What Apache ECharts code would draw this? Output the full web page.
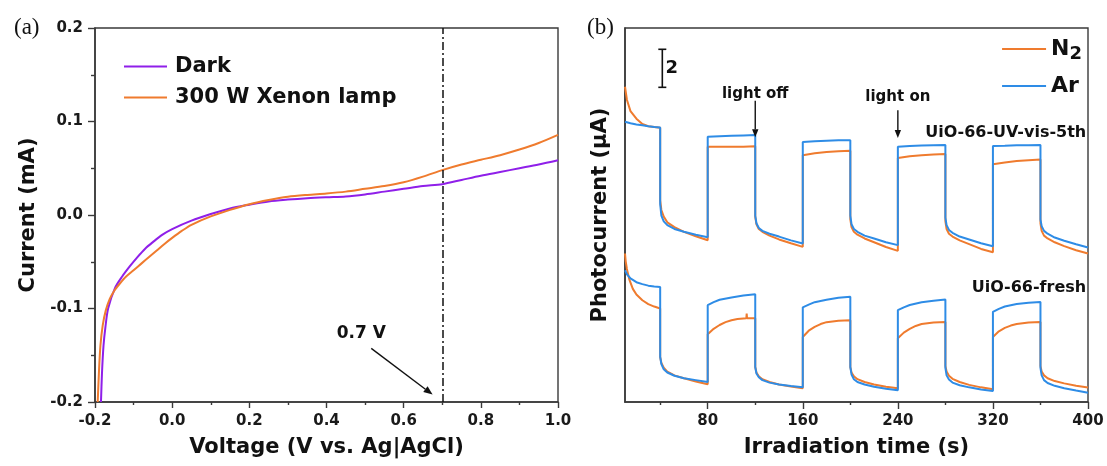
<!DOCTYPE html>
<html>
<head>
<meta charset="utf-8">
<script src="https://cdn.jsdelivr.net/npm/echarts@6/dist/echarts.min.js"></script>
<style>html,body{margin:0;padding:0;background:#fff;}#c{width:1107px;height:466px;}</style>
</head>
<body>
<div id="c"></div>
<script>
// ---------- Panel (a): I-V curves ----------
const darkIV = [[-0.1845,-0.2],[-0.182,-0.17],[-0.178,-0.14],[-0.173,-0.12],[-0.166,-0.1],[-0.148,-0.078],[-0.13,-0.066],[-0.11,-0.055],[-0.09,-0.045],[-0.07,-0.036],[-0.05,-0.029],[-0.025,-0.021],[0,-0.015],[0.05,-0.006],[0.1,0.001],[0.15,0.007],[0.2,0.011],[0.25,0.0145],[0.3,0.0165],[0.35,0.018],[0.4,0.019],[0.45,0.0198],[0.5,0.022],[0.55,0.025],[0.6,0.028],[0.65,0.031],[0.7,0.033],[0.75,0.0375],[0.8,0.042],[0.85,0.046],[0.9,0.05],[0.95,0.054],[1.0,0.0585]];
const xenonIV = [[-0.193,-0.2],[-0.19,-0.17],[-0.186,-0.14],[-0.18,-0.118],[-0.172,-0.102],[-0.162,-0.09],[-0.15,-0.081],[-0.135,-0.073],[-0.12,-0.066],[-0.1,-0.059],[-0.08,-0.052],[-0.06,-0.045],[-0.04,-0.038],[-0.02,-0.031],[0,-0.0245],[0.025,-0.017],[0.05,-0.0105],[0.1,-0.0015],[0.15,0.0055],[0.2,0.0115],[0.25,0.016],[0.3,0.0195],[0.35,0.0215],[0.4,0.023],[0.45,0.025],[0.5,0.028],[0.55,0.031],[0.6,0.035],[0.65,0.041],[0.7,0.048],[0.75,0.054],[0.8,0.059],[0.85,0.064],[0.9,0.07],[0.95,0.077],[1.0,0.0857]];
const seriesNamesA = ['Dark', '300 W Xenon lamp'];
const markVoltage = 0.7;

// ---------- Panel (b): photocurrent transients ----------
const upperN2 = [[10.4,16.58],[12,15.9],[15,15.3],[20,14.9],[25,14.62],[30,14.5],[35,14.46],[40,14.42],
 [40,10.6],[41,10.1],[43,9.75],[46,9.45],[52,9.2],[60,8.95],[70,8.72],[80,8.51],
 [80,13.42],[90,13.42],[100,13.42],[110,13.43],[120,13.45],
 [120,9.74],[121,9.35],[123,9.1],[126,8.95],[132,8.75],[140,8.55],[150,8.35],[160,8.16],
 [160,12.98],[170,13.08],[180,13.15],[190,13.19],[200,13.21],
 [200,9.6],[201,9.2],[203,8.95],[206,8.8],[212,8.6],[220,8.4],[230,8.15],[240,7.95],
 [240,12.83],[250,12.93],[260,12.98],[270,13.02],[280,13.04],
 [280,9.5],[281,9.1],[283,8.85],[286,8.7],[292,8.5],[300,8.3],[310,8.05],[320,7.88],
 [320,12.51],[330,12.6],[340,12.67],[350,12.72],[360,12.76],
 [360,9.4],[361,9.0],[363,8.75],[366,8.6],[372,8.4],[380,8.2],[390,7.98],[400,7.81]];
const upperAr = [[10.4,14.74],[15,14.66],[20,14.6],[25,14.55],[30,14.5],[35,14.46],[40,14.44],
 [40,10.4],[41,9.8],[43,9.5],[46,9.3],[52,9.1],[60,8.95],[70,8.8],[80,8.67],
 [80,13.95],[90,13.98],[100,14.0],[110,14.02],[120,14.04],
 [120,9.8],[121,9.4],[123,9.15],[126,9.0],[132,8.85],[140,8.7],[150,8.5],[160,8.34],
 [160,13.68],[170,13.72],[180,13.74],[190,13.76],[200,13.77],
 [200,9.8],[201,9.35],[203,9.1],[206,8.95],[212,8.75],[220,8.6],[230,8.4],[240,8.25],
 [240,13.42],[250,13.47],[260,13.49],[270,13.5],[280,13.51],
 [280,9.7],[281,9.3],[283,9.05],[286,8.9],[292,8.7],[300,8.55],[310,8.35],[320,8.19],
 [320,13.47],[330,13.48],[340,13.5],[350,13.5],[360,13.52],
 [360,9.6],[361,9.25],[363,9.0],[366,8.85],[372,8.65],[380,8.48],[390,8.3],[400,8.13]];
const lowerN2 = [[10.4,7.81],[11,7.4],[12,7.0],[14,6.45],[17,5.95],[20,5.65],[25,5.35],[30,5.15],[35,5.02],[40,4.92],
 [40,2.37],[41,2.05],[43,1.8],[46,1.6],[52,1.4],[60,1.25],[70,1.08],[80,0.93],
 [80,3.56],[85,3.85],[90,4.05],[95,4.2],[100,4.3],[105,4.36],[112.5,4.4],[112.8,4.65],[113.1,4.4],[120,4.41],
 [120,1.84],[121,1.55],[123,1.35],[126,1.2],[132,1.05],[140,0.92],[150,0.82],[160,0.72],
 [160,3.42],[165,3.75],[170,3.95],[175,4.1],[180,4.2],[190,4.27],[200,4.3],
 [200,1.84],[201,1.55],[203,1.35],[206,1.2],[212,1.05],[220,0.92],[230,0.8],[240,0.72],
 [240,3.35],[245,3.65],[250,3.85],[255,4.0],[260,4.1],[270,4.18],[280,4.21],
 [280,1.9],[281,1.6],[283,1.38],[286,1.22],[292,1.05],[300,0.9],[310,0.77],[320,0.67],
 [320,3.42],[325,3.72],[330,3.9],[335,4.02],[340,4.1],[350,4.18],[360,4.21],
 [360,1.9],[361,1.6],[363,1.4],[366,1.25],[372,1.1],[380,0.98],[390,0.85],[400,0.76]];
const lowerAr = [[10.4,6.93],[12,6.72],[15,6.5],[20,6.3],[25,6.2],[30,6.12],[35,6.08],[40,6.05],
 [40,2.37],[41,2.0],[43,1.72],[46,1.55],[52,1.38],[60,1.25],[70,1.15],[80,1.05],
 [80,5.09],[85,5.25],[90,5.38],[100,5.5],[110,5.6],[120,5.67],
 [120,1.84],[121,1.5],[123,1.3],[126,1.15],[132,1.02],[140,0.92],[150,0.84],[160,0.78],
 [160,4.98],[165,5.12],[170,5.25],[180,5.38],[190,5.48],[200,5.53],
 [200,1.84],[201,1.45],[203,1.2],[206,1.05],[212,0.92],[220,0.8],[230,0.7],[240,0.62],
 [240,4.83],[245,4.98],[250,5.1],[260,5.25],[270,5.33],[280,5.39],
 [280,1.8],[281,1.4],[283,1.18],[286,1.02],[292,0.88],[300,0.77],[310,0.66],[320,0.58],
 [320,4.74],[325,4.9],[330,5.02],[340,5.15],[350,5.22],[360,5.26],
 [360,1.8],[361,1.4],[363,1.15],[366,1.0],[372,0.85],[380,0.72],[390,0.6],[400,0.49]];
const timeLabels = [80, 160, 240, 320, 400];
const timeMinorTicks = [40, 120, 200, 280, 360];
const timeMin = 10.4, timeMax = 400;
const photoMax = 19.67;

// annotations (data coordinates)
const textsA = [{x:0.49, y:-0.127, t:'0.7 V', align:'center', size:17}];
const arrowsA = [[0.516,-0.1427,0.675,-0.1921]];
const textsB = [
  {x:120, y:16.2, t:'light off', align:'center', size:15},
  {x:240, y:16.05, t:'light on', align:'center', size:15},
  {x:398.5, y:14.13, t:'UiO-66-UV-vis-5th', align:'right', size:16},
  {x:398.5, y:6.03, t:'UiO-66-fresh', align:'right', size:16},
  {x:44.5, y:17.55, t:'2', align:'left', size:18}
];
const arrowsB = [[120,15.85,120,13.93],[240,15.35,240,13.89]];
const scaleBar = [[41.8, 18.55, 16.55]];

const PURPLE = '#8f1fe9', ORANGE = '#ef7b2e', BLUE = '#2e8ce6';
const FONT = '"DejaVu Sans", "Liberation Sans", Arial, sans-serif';
const AXC = '#3a3a3a';

function textSeries(xi, yi, items) {
  return {
    type:'custom', xAxisIndex:xi, yAxisIndex:yi, clip:false, silent:true, z:20,
    data: items.map(d => [d.x, d.y]),
    renderItem: (params, api) => {
      const d = items[params.dataIndex];
      const p = api.coord([api.value(0), api.value(1)]);
      return {type:'text', x:p[0], y:p[1], style:{text:d.t, fill:'#111', font:'bold ' + d.size + 'px ' + FONT, textAlign:d.align, textVerticalAlign:'middle'}};
    }
  };
}
function arrowSeries(xi, yi, items, head) {
  return {
    type:'custom', xAxisIndex:xi, yAxisIndex:yi, clip:false, silent:true, z:20,
    data: items,
    renderItem: (params, api) => {
      const a = api.coord([api.value(0), api.value(1)]);
      const b = api.coord([api.value(2), api.value(3)]);
      const ang = Math.atan2(b[1]-a[1], b[0]-a[0]);
      const L = head, W = head*0.4;
      const bx = b[0]-L*Math.cos(ang), by = b[1]-L*Math.sin(ang);
      const p1 = [bx + W*Math.sin(ang), by - W*Math.cos(ang)];
      const p2 = [bx - W*Math.sin(ang), by + W*Math.cos(ang)];
      return {type:'group', children:[
        {type:'line', shape:{x1:a[0], y1:a[1], x2:bx, y2:by}, style:{stroke:'#111', lineWidth:1.4}},
        {type:'polygon', shape:{points:[b, p1, p2]}, style:{fill:'#111'}}
      ]};
    }
  };
}

const chart = echarts.init(document.getElementById('c'), null, {renderer:'canvas'});
const axisLabelStyle = {color:'#1a1a1a', fontFamily:FONT, fontWeight:'bold', fontSize:15};
const nameStyle = {color:'#111', fontFamily:FONT, fontWeight:'bold', fontSize:21};

chart.setOption({
  backgroundColor:'#fff',
  animation:false,
  title:[
    {text:'(a)', left:9, top:11, textStyle:{fontFamily:'"Liberation Serif", "Times New Roman", serif', fontWeight:'normal', fontSize:23, color:'#111'}},
    {text:'(b)', left:582, top:11, textStyle:{fontFamily:'"Liberation Serif", "Times New Roman", serif', fontWeight:'normal', fontSize:23, color:'#111'}}
  ],
  legend:[
    {data:seriesNamesA, left:119, top:51, orient:'vertical', icon:'rect', itemWidth:43, itemHeight:2.2, itemGap:10,
     textStyle:{fontFamily:FONT, fontWeight:'bold', fontSize:21, color:'#111', padding:[0,0,0,3]}},
    {data:['N2','Ar'], right:20, top:33, orient:'vertical', icon:'rect', itemWidth:44, itemHeight:2.2, itemGap:12,
     formatter: n => n === 'N2' ? '{n|N}{s|2}' : '{n|Ar}',
     textStyle:{fontFamily:FONT, fontWeight:'bold', fontSize:22, color:'#111',
       rich:{n:{fontFamily:FONT, fontWeight:'bold', fontSize:22, color:'#111'}, s:{fontFamily:FONT, fontWeight:'bold', fontSize:18, color:'#111', padding:[10,0,0,0]}}}}
  ],
  grid:[
    {left:95, right:549, top:28, bottom:64, show:true, borderColor:AXC, borderWidth:1.4, backgroundColor:'transparent'},
    {left:625, right:19, top:28, bottom:64, show:true, borderColor:AXC, borderWidth:1.4, backgroundColor:'transparent'}
  ],
  xAxis:[
    {gridIndex:0, type:'value', min:-0.2, max:1.0, interval:0.2,
     name:'Voltage (V vs. Ag|AgCl)', nameLocation:'middle', nameGap:35, nameTextStyle:nameStyle,
     axisLine:{show:true, onZero:false, lineStyle:{color:AXC, width:1.6}},
     axisTick:{show:true, length:6, lineStyle:{color:AXC, width:1.4}},
     minorTick:{show:true, splitNumber:2, length:3, lineStyle:{color:AXC, width:1.4}},
     axisLabel:{...axisLabelStyle, margin:12, formatter: v => v.toFixed(1)},
     splitLine:{show:false}},
    {gridIndex:1, type:'value', min:timeMin, max:timeMax,
     name:'Irradiation time (s)', nameLocation:'middle', nameGap:35, nameTextStyle:nameStyle,
     axisLine:{show:true, onZero:false, lineStyle:{color:AXC, width:1.6}},
     axisTick:{show:true, length:7, customValues:timeLabels, lineStyle:{color:AXC, width:1.4}},
     axisLabel:{...axisLabelStyle, margin:12, customValues:timeLabels},
     splitLine:{show:false}},
    {gridIndex:1, type:'value', min:timeMin, max:timeMax, position:'bottom',
     axisLine:{show:false}, axisLabel:{show:false},
     axisTick:{show:true, length:3, customValues:timeMinorTicks, lineStyle:{color:AXC, width:1.4}},
     splitLine:{show:false}}
  ],
  yAxis:[
    {gridIndex:0, type:'value', min:-0.2, max:0.2, interval:0.1,
     name:'Current (mA)', nameLocation:'middle', nameGap:56, nameTextStyle:nameStyle,
     axisLine:{show:true, onZero:false, lineStyle:{color:AXC, width:1.6}},
     axisTick:{show:true, length:7, lineStyle:{color:AXC, width:1.4}},
     minorTick:{show:true, splitNumber:2, length:4, lineStyle:{color:AXC, width:1.4}},
     axisLabel:{...axisLabelStyle, margin:12, formatter: v => v.toFixed(1)},
     splitLine:{show:false}},
    {gridIndex:1, type:'value', min:0, max:photoMax,
     name:'Photocurrent (μA)', nameLocation:'middle', nameGap:14, nameTextStyle:nameStyle,
     axisLine:{show:true, onZero:false, lineStyle:{color:AXC, width:1.6}},
     axisTick:{show:false}, axisLabel:{show:false}, splitLine:{show:false}}
  ],
  series:[
    {name:'Dark', type:'line', xAxisIndex:0, yAxisIndex:0, data:darkIV, smooth:0.3, showSymbol:false, symbol:'none',
     lineStyle:{color:PURPLE, width:2}, itemStyle:{color:PURPLE},
     markLine:{silent:true, symbol:'none', label:{show:false},
       lineStyle:{color:'#111', width:1.5, type:[8,3,2,3]}, data:[{xAxis:markVoltage}]}},
    {name:'300 W Xenon lamp', type:'line', xAxisIndex:0, yAxisIndex:0, data:xenonIV, smooth:0.3, showSymbol:false, symbol:'none',
     lineStyle:{color:ORANGE, width:2}, itemStyle:{color:ORANGE}},
    {name:'N2', type:'line', xAxisIndex:1, yAxisIndex:1, data:upperN2, showSymbol:false, symbol:'none',
     lineStyle:{color:ORANGE, width:2}, itemStyle:{color:ORANGE}},
    {name:'Ar', type:'line', xAxisIndex:1, yAxisIndex:1, data:upperAr, showSymbol:false, symbol:'none',
     lineStyle:{color:BLUE, width:2}, itemStyle:{color:BLUE}},
    {name:'N2', type:'line', xAxisIndex:1, yAxisIndex:1, data:lowerN2, showSymbol:false, symbol:'none',
     lineStyle:{color:ORANGE, width:2}, itemStyle:{color:ORANGE}},
    {name:'Ar', type:'line', xAxisIndex:1, yAxisIndex:1, data:lowerAr, showSymbol:false, symbol:'none',
     lineStyle:{color:BLUE, width:2}, itemStyle:{color:BLUE}},
    textSeries(0, 0, textsA),
    arrowSeries(0, 0, arrowsA, 9),
    textSeries(1, 1, textsB),
    arrowSeries(1, 1, arrowsB, 8),
    {type:'custom', xAxisIndex:1, yAxisIndex:1, clip:false, silent:true, z:20, data:scaleBar,
     renderItem:(params, api) => {
       const a = api.coord([api.value(0), api.value(1)]);
       const b = api.coord([api.value(0), api.value(2)]);
       const st = {stroke:'#111', lineWidth:1.6};
       return {type:'group', children:[
         {type:'line', shape:{x1:a[0], y1:a[1], x2:b[0], y2:b[1]}, style:st},
         {type:'line', shape:{x1:a[0]-4, y1:a[1], x2:a[0]+4, y2:a[1]}, style:st},
         {type:'line', shape:{x1:b[0]-4, y1:b[1], x2:b[0]+4, y2:b[1]}, style:st}
       ]};
     }}
  ]
});
</script>
</body>
</html>
